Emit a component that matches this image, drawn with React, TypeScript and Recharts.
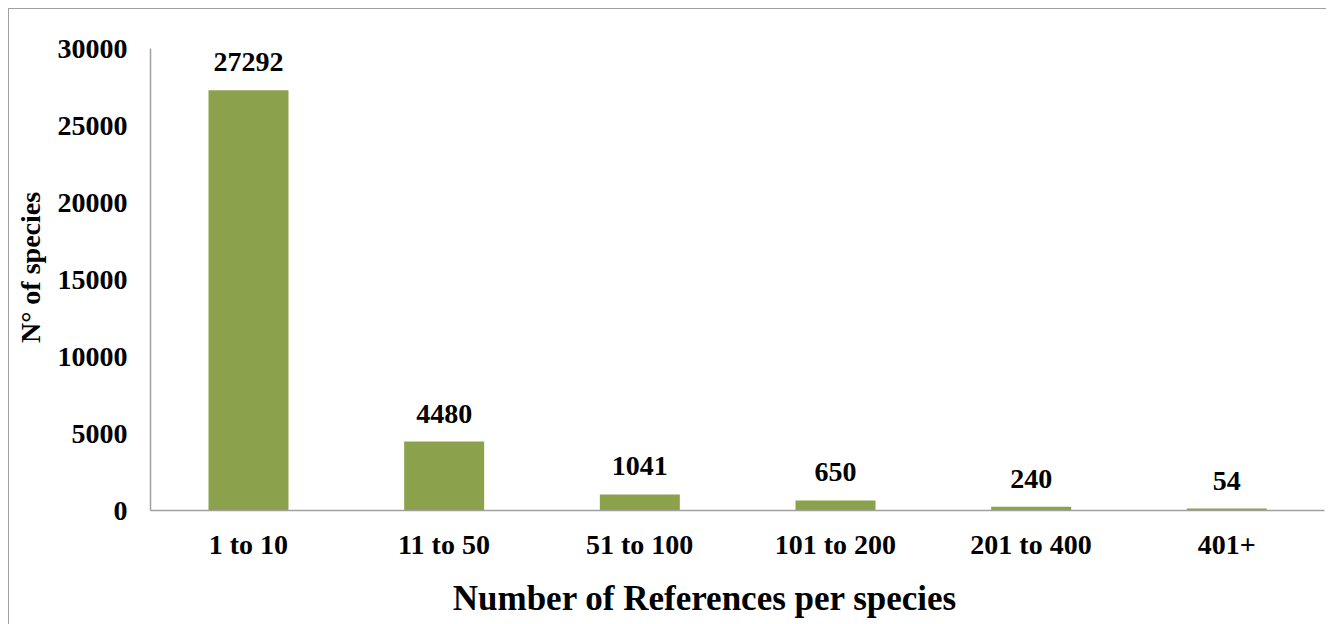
import { BarChart, Bar, XAxis, YAxis, LabelList } from "recharts";

const categories = ["1 to 10", "11 to 50", "51 to 100", "101 to 200", "201 to 400", "401+"];
const speciesCounts = [27292, 4480, 1041, 650, 240, 54];
const yTicks = [0, 5000, 10000, 15000, 20000, 25000, 30000];

const data = categories.map((range, i) => ({ range, count: speciesCounts[i] }));

const FONT = '"Liberation Serif", "Times New Roman", serif';
const BAR_COLOR = "#8ba14c";
const AXIS_COLOR = "#a0a0a0";

export default function App() {
  return (
    <div
      style={{
        width: 1318,
        height: 640,
        border: `1.5px solid ${AXIS_COLOR}`,
        background: "#fff",
        fontFamily: FONT,
      }}
    >
      <BarChart
        width={1318}
        height={640}
        data={data}
        margin={{ top: 39.5, right: 2.5, left: 0, bottom: 58.5 }}
      >
        <XAxis
          dataKey="range"
          height={80}
          axisLine={{ stroke: AXIS_COLOR, strokeWidth: 1.5 }}
          tickLine={false}
          tickSize={0}
          tickMargin={24}
          tick={{ fontSize: 28, fontWeight: "bold", fill: "#000", fontFamily: FONT }}
          label={{
            content: (props: any) => {
              const vb = props.viewBox;
              return (
                <text
                  x={vb.x + vb.width / 2 - 33}
                  y={vb.y + 99}
                  textAnchor="middle"
                  fontSize={35}
                  fontWeight="bold"
                  fontFamily={FONT}
                  fill="#000"
                >
                  Number of References per species
                </text>
              );
            },
          }}
        />
        <YAxis
          width={141.5}
          domain={[0, 30000]}
          ticks={yTicks}
          interval={0}
          axisLine={{ stroke: AXIS_COLOR, strokeWidth: 1.5 }}
          tickLine={false}
          tickSize={0}
          tickMargin={23}
          tick={{ fontSize: 28, fontWeight: "bold", fill: "#000", fontFamily: FONT }}
          label={{
            content: (props: any) => {
              const vb = props.viewBox;
              const cx = vb.x + 21.5;
              const cy = vb.y + vb.height / 2 - 12;
              return (
                <text
                  x={cx}
                  y={cy}
                  transform={`rotate(-90, ${cx}, ${cy})`}
                  textAnchor="middle"
                  dominantBaseline="central"
                  fontSize={28}
                  fontWeight="bold"
                  fontFamily={FONT}
                  fill="#000"
                >
                  N° of species
                </text>
              );
            },
          }}
        />
        <Bar
          dataKey="count"
          fill={BAR_COLOR}
          barSize={80}
          minPointSize={2}
          isAnimationActive={false}
        >
          <LabelList
            dataKey="count"
            position="top"
            offset={19}
            style={{ fontSize: 28, fontWeight: "bold", fill: "#000", fontFamily: FONT }}
          />
        </Bar>
      </BarChart>
    </div>
  );
}
